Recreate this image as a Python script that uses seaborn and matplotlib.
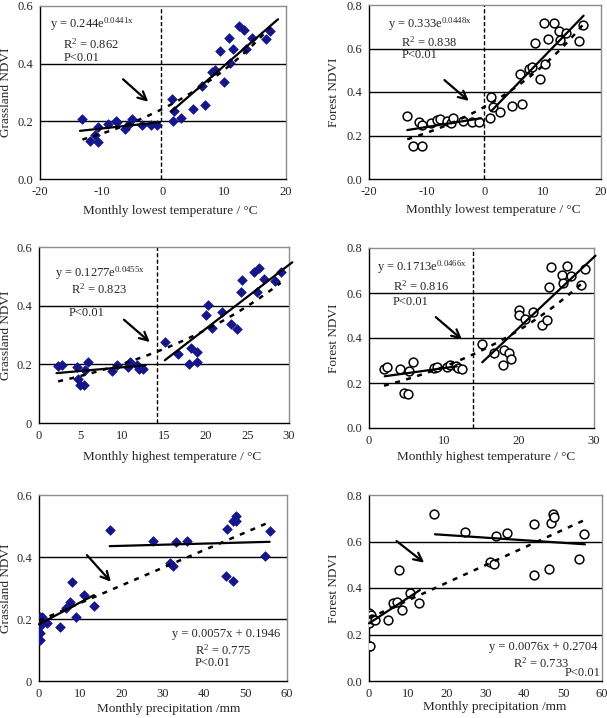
import numpy as np
import matplotlib
matplotlib.use("Agg")
import matplotlib.pyplot as plt
import seaborn as sns

# ---- values ----
# monthly lowest temperature
lt_grass_x = [-13.1, -11.9, -11.1, -10.5, -10.5, -9.0, -7.7, -7.4, -6.2, -5.6, -5.1, -3.4, -1.9, -0.9,
              1.5, 1.6, 1.8, 3.0, 4.9, 6.4, 6.8, 8.0, 8.4, 9.2, 9.9, 10.8, 10.9, 11.4, 12.4, 13.2,
              13.5, 14.5, 16.7, 17.4]
lt_grass_y = [0.208, 0.133, 0.153, 0.179, 0.129, 0.191, 0.201, 0.197, 0.175, 0.191, 0.208, 0.187, 0.187, 0.187,
              0.277, 0.202, 0.237, 0.210, 0.243, 0.323, 0.255, 0.372, 0.378, 0.445, 0.338, 0.488, 0.401, 0.451,
              0.531, 0.517, 0.451, 0.488, 0.484, 0.513]
lt_forest_x = [-13.4, -12.4, -11.3, -10.9, -10.8, -9.3, -8.3, -7.8, -6.6, -5.8, -5.6, -3.8, -2.3, -1.1,
               0.9, 1.1, 1.3, 2.5, 4.6, 6.0, 6.4, 7.5, 8.1, 8.7, 9.4, 10.3, 10.1, 10.9, 11.9, 12.7,
               13.0, 14.0, 16.2, 16.9]
lt_forest_y = [0.291, 0.153, 0.261, 0.150, 0.248, 0.256, 0.271, 0.274, 0.267, 0.259, 0.282, 0.267, 0.264, 0.264,
               0.279, 0.375, 0.333, 0.307, 0.336, 0.483, 0.345, 0.504, 0.516, 0.624, 0.458, 0.527, 0.719, 0.642,
               0.719, 0.680, 0.639, 0.673, 0.634, 0.708]

# monthly highest temperature
ht_grass_x = [2.3, 2.8, 4.5, 4.7, 4.9, 5.4, 5.5, 5.9, 8.8, 9.3, 10.7, 10.9, 11.7, 12.0, 12.5,
              15.1, 16.7, 18.0, 18.2, 18.9, 19.0, 20.0, 20.3, 20.8, 22.0, 23.0, 23.7, 24.2, 24.3,
              25.8, 26.1, 26.4, 27.0, 28.3, 29.0]
ht_grass_y = [0.193, 0.199, 0.191, 0.150, 0.131, 0.128, 0.180, 0.208, 0.176, 0.197, 0.191, 0.208, 0.199, 0.185, 0.185,
              0.276, 0.235, 0.201, 0.256, 0.241, 0.207, 0.367, 0.401, 0.324, 0.377, 0.338, 0.322, 0.447, 0.489,
              0.515, 0.448, 0.530, 0.491, 0.483, 0.515]
ht_forest_x = [2.0, 2.4, 4.1, 4.6, 5.2, 5.3, 5.8, 8.7, 9.0, 10.4, 10.8, 11.6, 11.9, 12.4,
               15.0, 16.7, 17.9, 18.0, 18.7, 18.9, 20.0, 20.0, 20.8, 21.9, 23.0, 23.7, 24.0, 24.2,
               25.7, 25.9, 26.4, 26.9, 28.3, 28.8]
ht_forest_y = [0.262, 0.270, 0.262, 0.156, 0.151, 0.252, 0.293, 0.267, 0.271, 0.271, 0.281, 0.274, 0.267, 0.264,
               0.375, 0.333, 0.279, 0.345, 0.333, 0.308, 0.526, 0.501, 0.484, 0.516, 0.459, 0.481, 0.625, 0.716,
               0.681, 0.644, 0.721, 0.674, 0.637, 0.707]

# monthly precipitation
pr_grass_x = [0.0, 0.3, 0.2, 0.2, 0.0, 0.2, 0.6, 0.8, 2.0, 5.2, 6.5, 7.4, 8.1, 8.9, 10.9, 13.3,
              17.1, 27.6, 31.7, 32.5, 33.1, 35.7, 45.2, 45.4, 46.9, 47.0, 47.7, 47.7, 54.6, 55.9]
pr_grass_y = [0.132, 0.132, 0.154, 0.177, 0.197, 0.208, 0.199, 0.208, 0.186, 0.175, 0.234, 0.256, 0.320, 0.208, 0.277, 0.243,
              0.487, 0.452, 0.382, 0.371, 0.447, 0.452, 0.339, 0.490, 0.516, 0.324, 0.532, 0.516, 0.403, 0.485]
pr_forest_x = [0.0, 0.0, 0.0, 0.0, 0.0, 0.3, 0.5, 0.7, 1.5, 5.0, 6.3, 7.1, 7.7, 8.6, 10.6, 12.9,
               16.8, 24.7, 31.2, 32.3, 32.6, 35.6, 42.6, 42.6, 46.4, 46.8, 47.5, 47.6, 54.2, 55.4]
pr_forest_y = [0.291, 0.265, 0.251, 0.277, 0.152, 0.149, 0.284, 0.265, 0.262, 0.262, 0.334, 0.341, 0.477, 0.305, 0.377, 0.334,
               0.717, 0.642, 0.513, 0.502, 0.624, 0.635, 0.456, 0.674, 0.480, 0.678, 0.718, 0.707, 0.525, 0.632]

# piecewise fits (solid): endpoints [x0, x1], [y0, y1]
lt_grass_lo = ([-13.5, -0.5], [0.167, 0.197]); lt_grass_hi = ([1.35, 18.7], [0.234, 0.554])
lt_forest_lo = ([-13.4, -0.7], [0.225, 0.279]); lt_forest_hi = ([1.1, 17.0], [0.313, 0.751])
ht_grass_lo = ([2.1, 12.8], [0.170, 0.197]); ht_grass_hi = ([15.1, 30.4], [0.214, 0.548])
ht_forest_lo = ([2.1, 11.7], [0.230, 0.274]); ht_forest_hi = ([15.1, 30.2], [0.292, 0.766])
pr_grass_lo = ([0.0, 13.3], [0.183, 0.277]); pr_grass_hi = ([17.1, 55.8], [0.435, 0.449])
pr_forest_lo = ([0.0, 13.1], [0.248, 0.391]); pr_forest_hi = ([17.0, 55.6], [0.631, 0.588])

# whole-range fits (dotted): exponential y = a*exp(b*x) or linear y = a*x + b
lt_grass_fit = ("exp", 0.244, 0.0441)
lt_forest_fit = ("exp", 0.333, 0.0448)
ht_grass_fit = ("exp", 0.1277, 0.0455)
ht_forest_fit = ("exp", 0.1713, 0.0466)
pr_grass_fit = ("lin", 0.0057, 0.1946)
pr_forest_fit = ("lin", 0.0076, 0.2704)

sns.set_style("white")
plt.rcParams["font.family"] = ["Liberation Serif", "DejaVu Serif"]
plt.rcParams["mathtext.fontset"] = "custom"
plt.rcParams["mathtext.rm"] = "Liberation Serif"
plt.rcParams["mathtext.it"] = "Liberation Serif:italic"
plt.rcParams["axes.unicode_minus"] = False
plt.rcParams["font.size"] = 9

fig = plt.figure(figsize=(6.07, 7.18), dpi=100)
W, H = 607.0, 718.0
TXT = 9


def make_ax(l, r, t, b):
    ax = fig.add_axes([l / W, 1 - b / H, (r - l) / W, (b - t) / H])
    ax.px = (l, r, t, b)
    return ax


def draw(ax, x, y, kind, lo, hi, fit, xlim, xticks, ylim, yticks, ylabels, xlabel, ylabel,
         xlab_pos, ylab_right):
    if kind == "grass":
        sns.scatterplot(x=x, y=y, ax=ax, marker="D", s=24, color="#15158c", edgecolor="#15158c",
                        linewidth=0.5, zorder=3)
    else:
        sns.scatterplot(x=x, y=y, ax=ax, marker="o", s=40, facecolor="white", edgecolor="black",
                        linewidth=1.1, zorder=3)
    sns.lineplot(x=lo[0], y=lo[1], ax=ax, color="black", lw=1.6, zorder=4)
    sns.lineplot(x=hi[0], y=hi[1], ax=ax, color="black", lw=1.6, zorder=4)
    for l in ax.lines:
        l.set_clip_on(False)
    xs = np.linspace(min(x), max(x), 200)
    if fit[0] == "exp":
        ys = fit[1] * np.exp(fit[2] * xs)
    else:
        ys = fit[1] * xs + fit[2]
    ax.plot(xs, ys, color="black", lw=1.8, dashes=(2.0, 2.6), zorder=4)
    for yt in yticks[1:]:
        if yt < ylim[1]:
            ax.axhline(yt, color="black", lw=1.0, zorder=1)
    ax.set_xlim(xlim)
    ax.set_ylim(ylim)
    ax.set_xticks(xticks)
    ax.set_yticks(yticks)
    ax.set_yticklabels(ylabels)
    ax.tick_params(axis="x", direction="in", length=3, width=1, pad=5, labelsize=9)
    ax.tick_params(axis="y", length=0, pad=5, labelsize=9)
    l, r, t, b = ax.px
    ax.set_xlabel(xlabel, fontsize=9.5)
    ax.xaxis.set_label_coords((xlab_pos[0] - l) / (r - l), -(xlab_pos[1] - b) / (b - t))
    ax.set_ylabel(ylabel, fontsize=9.5)
    ax.yaxis.set_label_coords((ylab_right - l) / (r - l), 0.5)
    for s in ["left", "bottom"]:
        ax.spines[s].set_color("black")
        ax.spines[s].set_linewidth(1.0)
    for s in ["top", "right"]:
        ax.spines[s].set_color("#8c8c8c")
        ax.spines[s].set_linewidth(1.0)
    ax.set_facecolor("white")


def arrow(ax, start, end):
    ax.annotate("", xy=end, xytext=start,
                arrowprops=dict(arrowstyle="->", lw=1.6, color="black", mutation_scale=15,
                                shrinkA=0, shrinkB=0))


def vline(ax, x):
    ax.axvline(x, color="black", lw=1.0, dashes=(3, 1.6), zorder=2)


# top-left
ax1 = make_ax(40, 286, 6, 179)
draw(ax1, lt_grass_x, lt_grass_y, "grass", lt_grass_lo, lt_grass_hi, lt_grass_fit,
     (-20, 20), [-20, -10, 0, 10, 20], (0, 0.6), [0, 0.2, 0.4, 0.6], ["0.0", "0.2", "0.4", "0.6"],
     "Monthly lowest temperature / °C", "Grassland NDVI", (170, 205), 12)
vline(ax1, -0.3)
arrow(ax1, (-6.5, 0.346), (-2.4, 0.268))
ax1.text(-18.4, 0.537, r"y = 0.244e$^{\mathrm{0.0441x}}$", fontsize=TXT, va="center")
ax1.text(-16.2, 0.467, r"R$^{2}$ = 0.862", fontsize=TXT, va="center")
ax1.text(-16.2, 0.421, "P<0.01", fontsize=TXT, va="center")

# top-right
ax2 = make_ax(369, 601, 5, 179)
draw(ax2, lt_forest_x, lt_forest_y, "forest", lt_forest_lo, lt_forest_hi, lt_forest_fit,
     (-20, 20), [-20, -10, 0, 10, 20], (0, 0.8), [0, 0.2, 0.4, 0.6, 0.8],
     ["0.0", "0.2", "0.4", "0.6", "0.8"],
     "Monthly lowest temperature / °C", "Forest NDVI", (493, 204), 340)
vline(ax2, -0.2)
arrow(ax2, (-7.0, 0.455), (-2.8, 0.359))
ax2.text(-16.7, 0.713, r"y = 0.333e$^{\mathrm{0.0448x}}$", fontsize=TXT, va="center")
ax2.text(-14.4, 0.628, r"R$^{2}$ = 0.838", fontsize=TXT, va="center")
ax2.text(-14.4, 0.570, "P<0.01", fontsize=TXT, va="center")

# middle-left
ax3 = make_ax(39, 289, 247, 423)
draw(ax3, ht_grass_x, ht_grass_y, "grass", ht_grass_lo, ht_grass_hi, ht_grass_fit,
     (0, 30), [0, 5, 10, 15, 20, 25, 30], (0, 0.6), [0, 0.2, 0.4, 0.6], ["0", "0.2", "0.4", "0.6"],
     "Monthly highest temperature / °C", "Grassland NDVI", (172, 451), 12)
vline(ax3, 14.1)
arrow(ax3, (10.2, 0.352), (13.3, 0.276))
ax3.text(1.9, 0.511, r"y = 0.1277e$^{\mathrm{0.0455x}}$", fontsize=TXT, va="center")
ax3.text(3.8, 0.455, r"R$^{2}$ = 0.823", fontsize=TXT, va="center")
ax3.text(3.6, 0.375, "P<0.01", fontsize=TXT, va="center")

# middle-right
ax4 = make_ax(369, 594, 248, 428)
draw(ax4, ht_forest_x, ht_forest_y, "forest", ht_forest_lo, ht_forest_hi, ht_forest_fit,
     (0, 30), [0, 10, 20, 30], (0, 0.8), [0, 0.2, 0.4, 0.6, 0.8],
     ["0.0", "0.2", "0.4", "0.6", "0.8"],
     "Monthly highest temperature / °C", "Forest NDVI", (486, 451), 340)
vline(ax4, 13.9)
arrow(ax4, (8.9, 0.493), (12.4, 0.393))
ax4.text(1.1, 0.714, r"y = 0.1713e$^{\mathrm{0.0466x}}$", fontsize=TXT, va="center")
ax4.text(3.2, 0.630, r"R$^{2}$ = 0.816", fontsize=TXT, va="center")
ax4.text(3.2, 0.560, "P<0.01", fontsize=TXT, va="center")

# bottom-left
ax5 = make_ax(39, 287, 495, 681)
draw(ax5, pr_grass_x, pr_grass_y, "grass", pr_grass_lo, pr_grass_hi, pr_grass_fit,
     (0, 60), [0, 10, 20, 30, 40, 50, 60], (0, 0.6), [0, 0.2, 0.4, 0.6], ["0", "0.2", "0.4", "0.6"],
     "Monthly precipitation /mm", "Grassland NDVI", (169, 703), 12)
arrow(ax5, (11.6, 0.406), (17.4, 0.320))
ax5.text(32.1, 0.150, "y = 0.0057x + 0.1946", fontsize=TXT, va="center")
ax5.text(37.7, 0.100, r"R$^{2}$ = 0.775", fontsize=TXT, va="center")
ax5.text(37.7, 0.059, "P<0.01", fontsize=TXT, va="center")

# bottom-right
ax6 = make_ax(369, 602, 495, 681)
draw(ax6, pr_forest_x, pr_forest_y, "forest", pr_forest_lo, pr_forest_hi, pr_forest_fit,
     (0, 60), [0, 10, 20, 30, 40, 50, 60], (0, 0.8), [0, 0.2, 0.4, 0.6, 0.8],
     ["0.0", "0.2", "0.4", "0.6", "0.8"],
     "Monthly precipitation /mm", "Forest NDVI", (495, 701), 340)
arrow(ax6, (7.1, 0.602), (14.2, 0.509))
ax6.text(30.9, 0.148, "y = 0.0076x + 0.2704", fontsize=TXT, va="center")
ax6.text(37.2, 0.076, r"R$^{2}$ = 0.733", fontsize=TXT, va="center")
ax6.text(59.6, 0.033, "P<0.01", fontsize=TXT, va="center", ha="right")

fig.savefig("out.png", dpi=100, facecolor="white")
